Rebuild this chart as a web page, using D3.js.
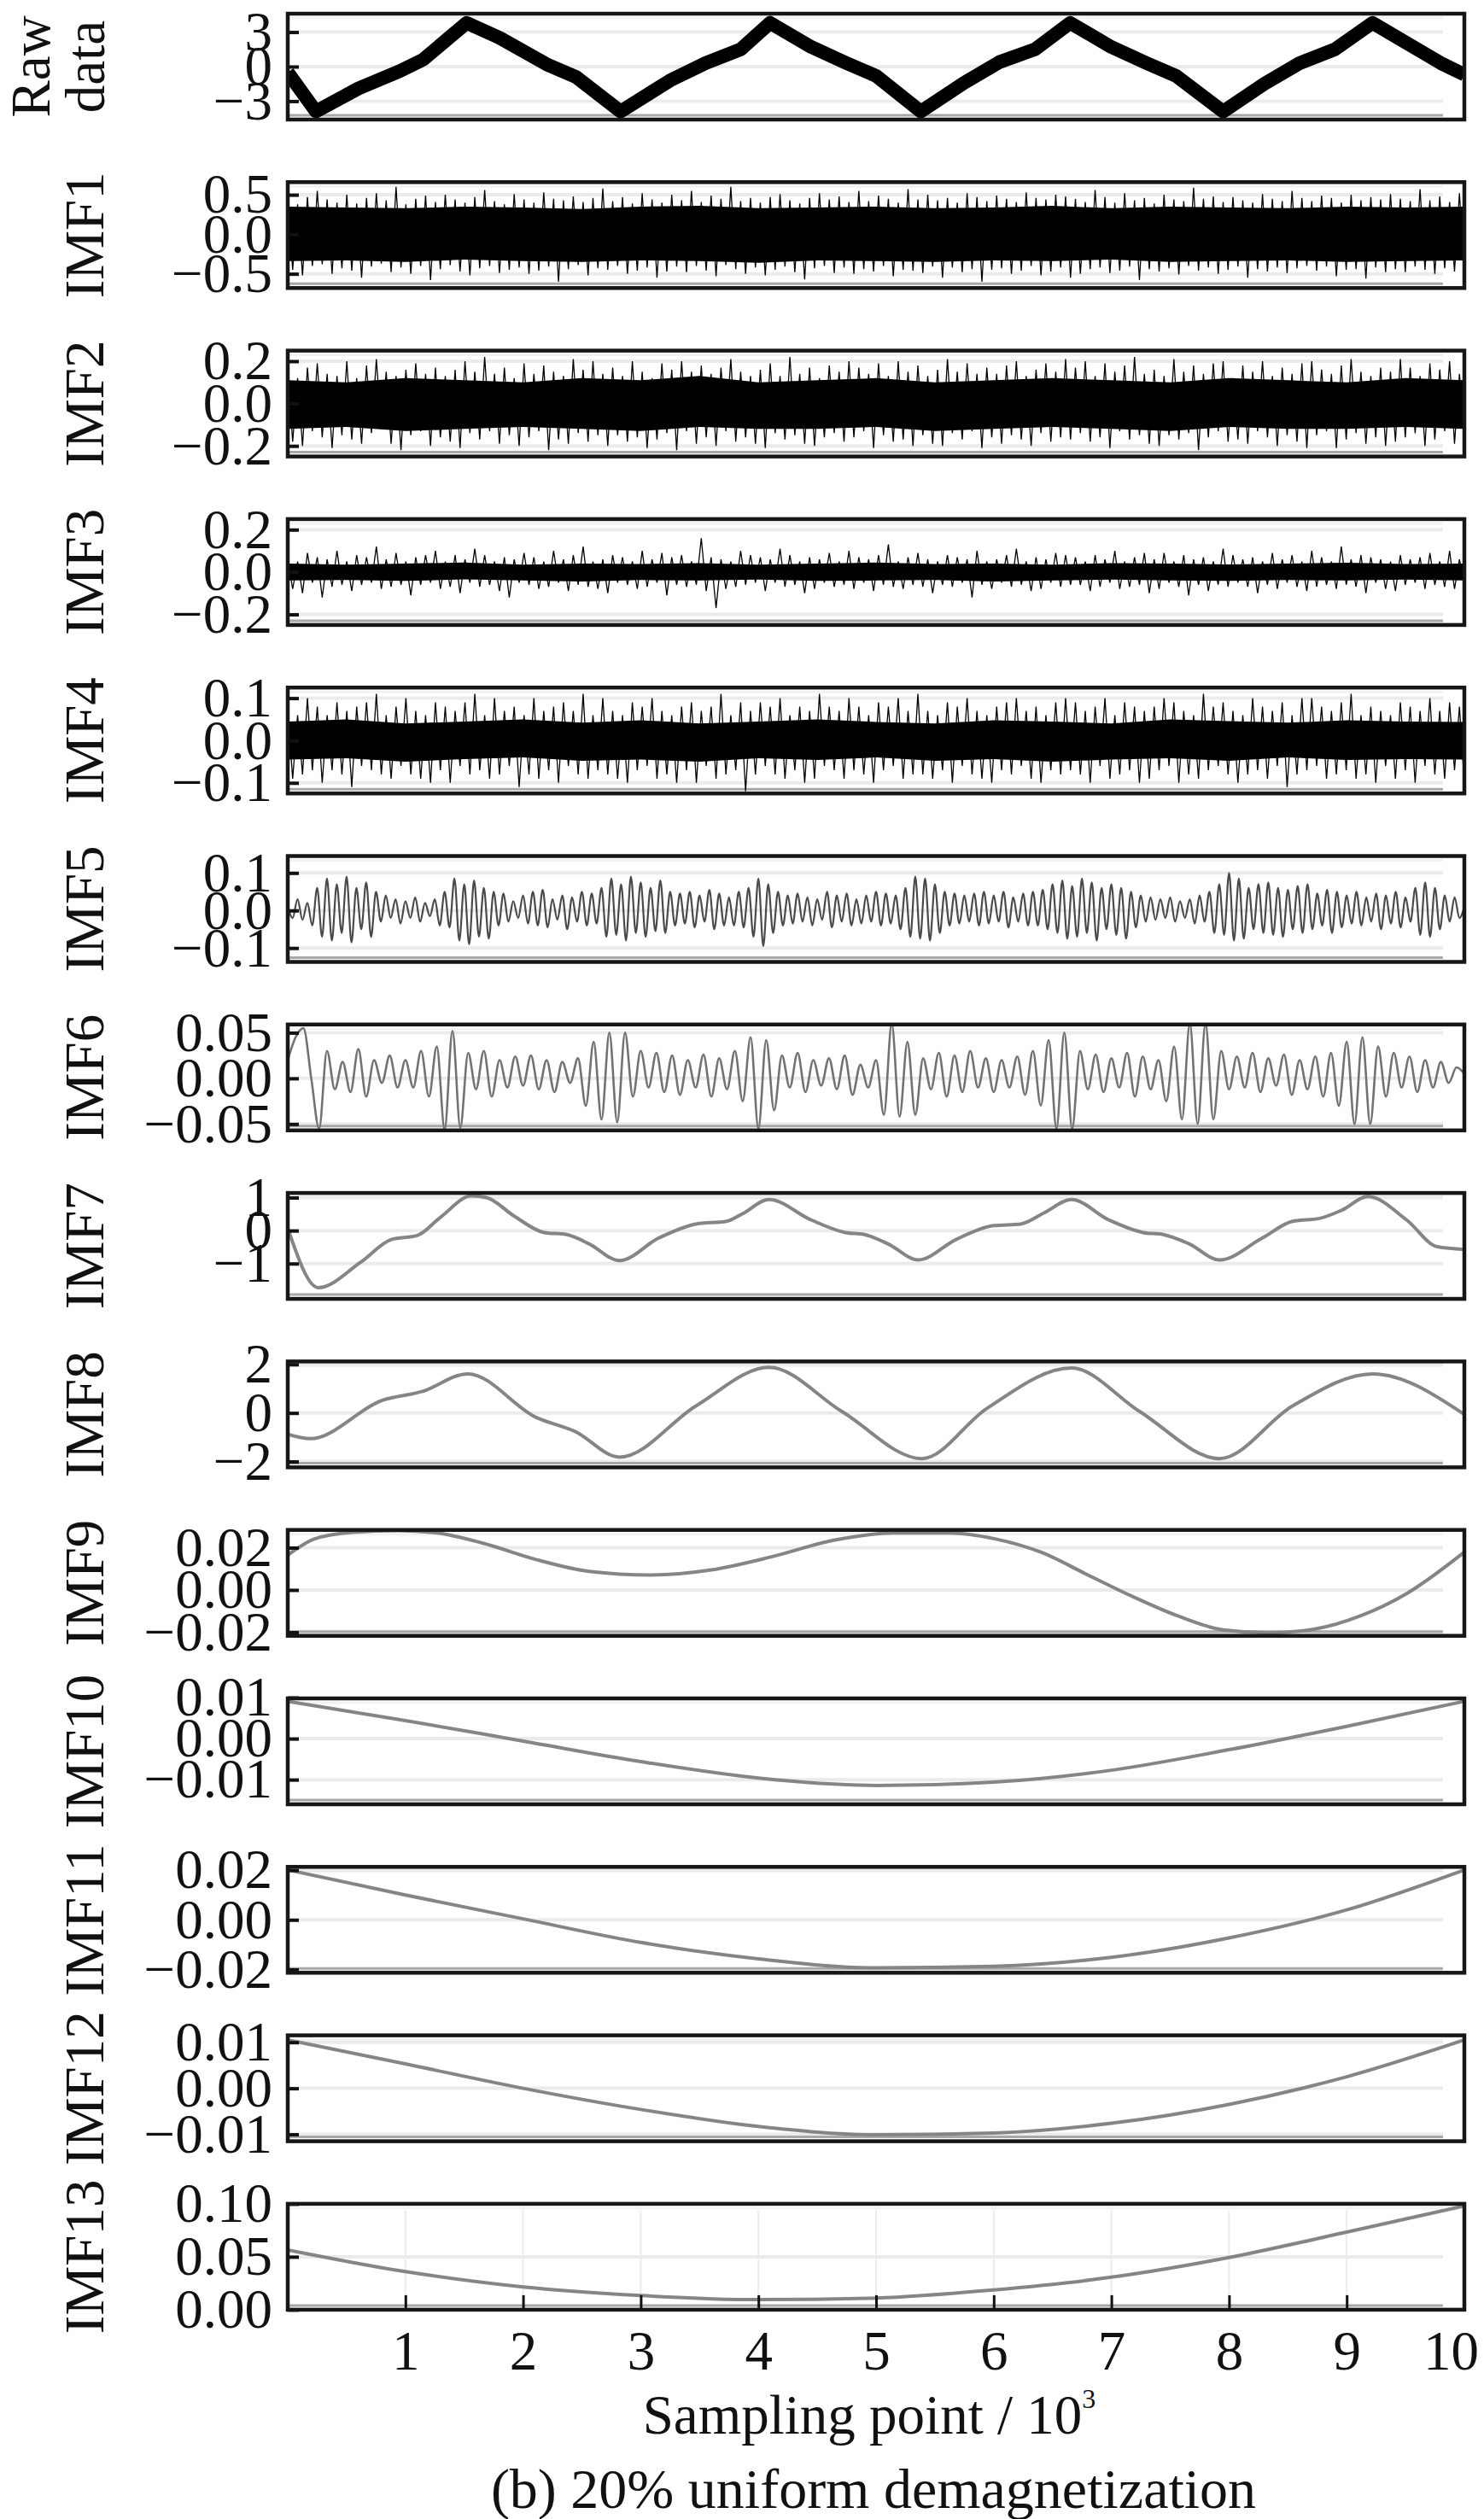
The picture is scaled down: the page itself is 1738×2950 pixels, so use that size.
<!doctype html>
<html lang="en">
<head>
	<meta charset="utf-8">
	<title>EMD - 20% uniform demagnetization</title>
	<style>
html, body {
	margin: 0;
	padding: 0;
	background-color: #fff;
}
svg {
	display: block;
	font-family: 'Liberation Serif', 'Times New Roman', serif;
	fill: #111;
}
	</style>
</head>
<body>
	<div id="chart"></div>

	<script src="https://cdn.jsdelivr.net/npm/d3@7/dist/d3.min.js"></script>
	<script>
(function _emd(d3) {

	'use strict';

	/* DATA */

	var xTicks = [1, 2, 3, 4, 5, 6, 7, 8, 9, 10];

	var rowNames = ['Raw data', 'IMF1', 'IMF2', 'IMF3', 'IMF4', 'IMF5', 'IMF6',
		'IMF7', 'IMF8', 'IMF9', 'IMF10', 'IMF11', 'IMF12', 'IMF13'];

	var yTicks = [
		[3, 0, -3], [0.5, 0, -0.5], [0.2, 0, -0.2], [0.2, 0, -0.2], [0.1, 0, -0.1],
		[0.1, 0, -0.1], [0.05, 0, -0.05], [1, 0, -1], [2, 0, -2], [0.02, 0, -0.02],
		[0.01, 0, -0.01], [0.02, 0, -0.02], [0.01, 0, -0.01], [0.10, 0.05, 0]
	];

	var yFormats = ['d', '.1f', '.1f', '.1f', '.1f', '.1f', '.2f', 'd', 'd',
		'.2f', '.2f', '.2f', '.2f', '.2f'];

	var yDomains = [
		[-4.6, 4.6], [-0.68, 0.66], [-0.25, 0.25], [-0.25, 0.25], [-0.125, 0.125],
		[-0.137, 0.145], [-0.057, 0.059], [-2.07, 1.14], [-2.24, 2.12], [-0.0217, 0.0284],
		[-0.016, 0.0098], [-0.0213, 0.0213], [-0.0115, 0.0115], [0, 0.1]
	];

	// raw signal: centre line of the noisy triangle band
	var rawX = [0, 0.24, 0.6, 0.95, 1.15, 1.52, 1.8, 2.2, 2.45, 2.83, 3.25, 3.55, 3.85, 4.1,
		4.45, 4.75, 5.0, 5.38, 5.75, 6.05, 6.35, 6.65, 7.0, 7.3, 7.55, 7.95, 8.3, 8.6, 8.9,
		9.22, 9.55, 9.8, 10];
	var rawY = [-0.5, -3.9, -1.9, -0.4, 0.6, 3.8, 2.5, 0.2, -0.9, -3.9, -1.2, 0.3, 1.5, 3.8,
		1.7, 0.3, -0.8, -3.9, -1.4, 0.4, 1.5, 3.8, 1.7, 0.3, -0.8, -3.9, -1.5, 0.3, 1.5,
		3.8, 1.8, 0.3, -0.7];

	// dense IMFs: core envelope every 500 samples, then successive peaks
	var imf1Hi = [0.35, 0.34, 0.33, 0.35, 0.34, 0.32, 0.35, 0.36, 0.33, 0.34, 0.35, 0.33, 0.34, 0.36, 0.33, 0.35, 0.34, 0.33, 0.35, 0.34, 0.35];
	var imf1Lo = [-0.34, -0.33, -0.35, -0.32, -0.34, -0.35, -0.33, -0.34, -0.36, -0.33, -0.34, -0.35, -0.33, -0.34, -0.32, -0.35, -0.34, -0.33, -0.35, -0.34, -0.33];
	var imf1Peaks = [
		0.42, -0.45, 0.38, -0.52, 0.47, -0.4, 0.55, -0.38, 0.44, -0.5, 0.4, -0.43, 0.5, -0.46, 0.39, -0.55,
		0.46, -0.41, 0.52, -0.37, 0.43, -0.48, 0.6, -0.42, 0.38, -0.5, 0.45, -0.4, 0.49, -0.58, 0.41, -0.44,
		0.5, -0.39, 0.44, -0.47, 0.4, -0.52, 0.47, -0.43, 0.56, -0.4, 0.42, -0.49, 0.38, -0.45, 0.51, -0.42,
		0.44, -0.5, 0.4, -0.46, 0.53, -0.41, 0.45, -0.6, 0.43, -0.44, 0.48, -0.39, 0.41, -0.52, 0.46, -0.43,
		0.58, -0.45, 0.42, -0.4, 0.47, -0.5, 0.39, -0.46, 0.52, -0.42, 0.44, -0.55, 0.4, -0.47, 0.5, -0.41,
		0.43, -0.48, 0.55, -0.4, 0.41, -0.46, 0.49, -0.53, 0.45, -0.39, 0.6, -0.44, 0.42, -0.5, 0.46, -0.42,
		0.4, -0.52, 0.47, -0.45, 0.51, -0.41, 0.43, -0.48, 0.39, -0.57, 0.46, -0.43, 0.52, -0.4, 0.44, -0.49,
		0.48, -0.42, 0.41, -0.5, 0.55, -0.44, 0.42, -0.47, 0.49, -0.4, 0.45, -0.53, 0.4, -0.45, 0.57, -0.46,
		0.44, -0.49, 0.5, -0.41, 0.43, -0.55, 0.46, -0.42, 0.4, -0.48, 0.52, -0.44, 0.47, -0.6, 0.42, -0.45,
		0.49, -0.43, 0.45, -0.5, 0.41, -0.46, 0.53, -0.4, 0.46, -0.52, 0.44, -0.47, 0.5, -0.42, 0.48, -0.55,
		0.45, -0.5, 0.41, -0.44, 0.56, -0.42, 0.47, -0.49, 0.4, -0.46, 0.52, -0.41, 0.43, -0.58, 0.46, -0.44,
		0.39, -0.47, 0.5, -0.43, 0.44, -0.51, 0.42, -0.4, 0.59, -0.46, 0.45, -0.42, 0.48, -0.5, 0.41, -0.45,
		0.47, -0.41, 0.43, -0.55, 0.4, -0.44, 0.51, -0.47, 0.45, -0.42, 0.42, -0.49, 0.55, -0.43, 0.46, -0.4,
		0.42, -0.46, 0.49, -0.41, 0.46, -0.53, 0.4, -0.45, 0.5, -0.44, 0.43, -0.56, 0.47, -0.42, 0.44, -0.48,
		0.51, -0.44, 0.45, -0.48, 0.42, -0.41, 0.57, -0.45, 0.43, -0.5, 0.48, -0.43, 0.41, -0.47, 0.52, -0.44
	];

	var imf2Hi = [0.11, 0.1, 0.12, 0.11, 0.1, 0.12, 0.11, 0.13, 0.1, 0.11, 0.12, 0.1, 0.11, 0.12, 0.11, 0.1, 0.12, 0.11, 0.1, 0.12, 0.11];
	var imf2Lo = [-0.12, -0.11, -0.13, -0.12, -0.11, -0.12, -0.13, -0.11, -0.12, -0.12, -0.11, -0.13, -0.12, -0.11, -0.12, -0.13, -0.11, -0.12, -0.12, -0.11, -0.12];
	var imf2Peaks = [
		0.15, -0.18, 0.12, -0.2, 0.17, -0.13, 0.19, -0.16, 0.14, -0.21, 0.13, -0.15, 0.2, -0.17, 0.12, -0.19,
		0.18, -0.14, 0.21, -0.12, 0.15, -0.19, 0.13, -0.22, 0.16, -0.15, 0.19, -0.13, 0.14, -0.2, 0.17, -0.16,
		0.13, -0.18, 0.16, -0.21, 0.2, -0.14, 0.15, -0.17, 0.22, -0.13, 0.14, -0.19, 0.17, -0.15, 0.12, -0.2,
		0.19, -0.16, 0.14, -0.13, 0.18, -0.22, 0.15, -0.17, 0.13, -0.19, 0.21, -0.14, 0.16, -0.18, 0.2, -0.15,
		0.14, -0.2, 0.17, -0.15, 0.13, -0.18, 0.2, -0.16, 0.15, -0.21, 0.12, -0.17, 0.19, -0.14, 0.16, -0.22,
		0.2, -0.13, 0.15, -0.19, 0.18, -0.16, 0.14, -0.2, 0.17, -0.13, 0.21, -0.18, 0.15, -0.16, 0.13, -0.19,
		0.16, -0.21, 0.19, -0.14, 0.13, -0.17, 0.22, -0.15, 0.14, -0.19, 0.17, -0.2, 0.12, -0.16, 0.18, -0.14,
		0.15, -0.18, 0.2, -0.16, 0.17, -0.13, 0.14, -0.21, 0.19, -0.15, 0.13, -0.18, 0.2, -0.17, 0.15, -0.2,
		0.18, -0.15, 0.13, -0.19, 0.16, -0.2, 0.21, -0.14, 0.15, -0.17, 0.19, -0.13, 0.14, -0.21, 0.17, -0.16,
		0.14, -0.19, 0.18, -0.15, 0.2, -0.17, 0.13, -0.2, 0.16, -0.14, 0.19, -0.18, 0.15, -0.16, 0.21, -0.17,
		0.17, -0.14, 0.2, -0.18, 0.13, -0.16, 0.19, -0.21, 0.15, -0.13, 0.18, -0.17, 0.22, -0.15, 0.14, -0.19,
		0.16, -0.2, 0.13, -0.15, 0.21, -0.17, 0.15, -0.14, 0.18, -0.22, 0.14, -0.16, 0.19, -0.13, 0.2, -0.18,
		0.12, -0.17, 0.18, -0.19, 0.15, -0.13, 0.2, -0.16, 0.13, -0.2, 0.17, -0.15, 0.14, -0.18, 0.19, -0.21,
		0.2, -0.15, 0.16, -0.13, 0.14, -0.21, 0.18, -0.17, 0.21, -0.14, 0.15, -0.19, 0.13, -0.16, 0.17, -0.2,
		0.15, -0.18, 0.21, -0.16, 0.17, -0.14, 0.13, -0.2, 0.19, -0.17, 0.16, -0.13, 0.2, -0.19, 0.14, -0.16
	];

	var imf3Hi = [0.04, 0.035, 0.04, 0.045, 0.035, 0.04, 0.038, 0.042, 0.035, 0.04, 0.045, 0.038, 0.04, 0.035, 0.042, 0.04, 0.036, 0.04, 0.044, 0.038, 0.04];
	var imf3Lo = [-0.04, -0.038, -0.042, -0.035, -0.04, -0.045, -0.038, -0.04, -0.036, -0.042, -0.04, -0.038, -0.045, -0.04, -0.036, -0.04, -0.042, -0.038, -0.04, -0.036, -0.04];
	var imf3Peaks = [
		0.06, -0.08, 0.05, -0.1, 0.09, -0.05, 0.07, -0.12, 0.06, -0.07, 0.1, -0.06, 0.05, -0.09, 0.08, -0.06,
		0.07, -0.05, 0.12, -0.08, 0.06, -0.07, 0.09, -0.06, 0.05, -0.11, 0.07, -0.06, 0.08, -0.05, 0.1, -0.08,
		0.05, -0.07, 0.08, -0.1, 0.06, -0.05, 0.11, -0.07, 0.08, -0.06, 0.05, -0.09, 0.07, -0.12, 0.06, -0.05,
		0.09, -0.06, 0.07, -0.08, 0.05, -0.07, 0.1, -0.05, 0.06, -0.09, 0.08, -0.06, 0.12, -0.07, 0.05, -0.08,
		0.06, -0.1, 0.08, -0.05, 0.07, -0.06, 0.05, -0.08, 0.1, -0.07, 0.06, -0.05, 0.09, -0.11, 0.07, -0.06,
		0.08, -0.07, 0.05, -0.06, 0.16, -0.09, 0.07, -0.17, 0.06, -0.08, 0.05, -0.07, 0.1, -0.06, 0.08, -0.05,
		0.07, -0.09, 0.06, -0.05, 0.11, -0.07, 0.08, -0.06, 0.05, -0.1, 0.07, -0.08, 0.06, -0.05, 0.09, -0.07,
		0.05, -0.06, 0.1, -0.08, 0.07, -0.05, 0.06, -0.09, 0.08, -0.06, 0.13, -0.07, 0.05, -0.08, 0.07, -0.06,
		0.09, -0.07, 0.06, -0.1, 0.05, -0.06, 0.08, -0.07, 0.07, -0.05, 0.06, -0.12, 0.1, -0.06, 0.05, -0.08,
		0.06, -0.05, 0.08, -0.07, 0.11, -0.06, 0.05, -0.09, 0.07, -0.08, 0.06, -0.05, 0.09, -0.07, 0.08, -0.06,
		0.07, -0.06, 0.05, -0.09, 0.08, -0.07, 0.06, -0.05, 0.1, -0.08, 0.05, -0.07, 0.07, -0.06, 0.09, -0.1,
		0.06, -0.08, 0.09, -0.05, 0.05, -0.07, 0.08, -0.11, 0.06, -0.06, 0.07, -0.09, 0.05, -0.06, 0.11, -0.07,
		0.08, -0.05, 0.06, -0.07, 0.07, -0.1, 0.05, -0.06, 0.09, -0.08, 0.06, -0.05, 0.08, -0.07, 0.05, -0.09,
		0.1, -0.07, 0.07, -0.06, 0.05, -0.08, 0.12, -0.06, 0.06, -0.07, 0.08, -0.1, 0.07, -0.05, 0.06, -0.08,
		0.05, -0.09, 0.08, -0.06, 0.06, -0.05, 0.07, -0.08, 0.09, -0.06, 0.05, -0.07, 0.1, -0.08, 0.06, -0.05
	];

	var imf4Hi = [0.045, 0.05, 0.04, 0.045, 0.05, 0.042, 0.048, 0.04, 0.045, 0.05, 0.044, 0.04, 0.048, 0.045, 0.04, 0.05, 0.046, 0.042, 0.048, 0.045, 0.044];
	var imf4Lo = [-0.045, -0.042, -0.05, -0.044, -0.04, -0.048, -0.045, -0.05, -0.042, -0.046, -0.04, -0.048, -0.044, -0.05, -0.045, -0.042, -0.048, -0.04, -0.046, -0.044, -0.045];
	var imf4Peaks = [
		0.07, -0.09, 0.06, -0.08, 0.1, -0.07, 0.08, -0.1, 0.06, -0.07, 0.09, -0.08, 0.07, -0.11, 0.08, -0.06,
		0.09, -0.07, 0.11, -0.08, 0.06, -0.09, 0.08, -0.06, 0.1, -0.08, 0.07, -0.09, 0.06, -0.1, 0.09, -0.07,
		0.08, -0.1, 0.07, -0.06, 0.09, -0.08, 0.11, -0.07, 0.06, -0.09, 0.1, -0.08, 0.07, -0.06, 0.08, -0.11,
		0.06, -0.08, 0.1, -0.09, 0.07, -0.07, 0.08, -0.1, 0.09, -0.06, 0.07, -0.08, 0.11, -0.09, 0.06, -0.07,
		0.1, -0.08, 0.07, -0.09, 0.06, -0.1, 0.09, -0.07, 0.08, -0.06, 0.1, -0.09, 0.07, -0.08, 0.06, -0.1,
		0.08, -0.07, 0.09, -0.1, 0.07, -0.06, 0.08, -0.09, 0.11, -0.08, 0.06, -0.07, 0.09, -0.12, 0.07, -0.08,
		0.09, -0.06, 0.08, -0.08, 0.1, -0.09, 0.06, -0.07, 0.08, -0.1, 0.07, -0.09, 0.11, -0.06, 0.08, -0.07,
		0.07, -0.09, 0.1, -0.07, 0.08, -0.08, 0.06, -0.1, 0.09, -0.07, 0.08, -0.06, 0.1, -0.09, 0.07, -0.08,
		0.11, -0.08, 0.07, -0.09, 0.06, -0.07, 0.09, -0.1, 0.08, -0.06, 0.1, -0.08, 0.07, -0.09, 0.06, -0.1,
		0.08, -0.07, 0.09, -0.08, 0.1, -0.06, 0.07, -0.09, 0.08, -0.1, 0.06, -0.07, 0.09, -0.08, 0.1, -0.07,
		0.09, -0.08, 0.07, -0.1, 0.08, -0.06, 0.1, -0.09, 0.06, -0.08, 0.09, -0.07, 0.08, -0.1, 0.07, -0.09,
		0.08, -0.07, 0.1, -0.06, 0.09, -0.1, 0.07, -0.08, 0.06, -0.09, 0.11, -0.07, 0.08, -0.06, 0.09, -0.08,
		0.07, -0.1, 0.06, -0.08, 0.1, -0.07, 0.08, -0.09, 0.07, -0.06, 0.09, -0.11, 0.06, -0.08, 0.1, -0.07,
		0.1, -0.06, 0.08, -0.09, 0.07, -0.08, 0.09, -0.07, 0.11, -0.09, 0.06, -0.08, 0.08, -0.1, 0.07, -0.06,
		0.06, -0.09, 0.09, -0.07, 0.08, -0.1, 0.07, -0.06, 0.1, -0.08, 0.07, -0.09, 0.09, -0.07, 0.08, -0.1
	];

	// oscillating IMFs: successive extrema, evenly spread over the record
	var imf5 = [
		0.01, -0.02, 0.03, -0.025, 0.02, -0.04, 0.06, -0.07, 0.085, -0.08, 0.07, -0.06, 0.09, -0.085, 0.06, -0.05, 0.075, -0.07, 0.05, -0.03, 0.04, -0.02, 0.03, -0.035,
		0.025, -0.02, 0.035, -0.03, 0.02, -0.015, 0.03, -0.04, 0.05, -0.045, 0.085, -0.08, 0.07, -0.09, 0.08, -0.07, 0.06, -0.075, 0.05, -0.04, 0.045, -0.03, 0.025, -0.02,
		0.04, -0.035, 0.05, -0.04, 0.055, -0.045, 0.03, -0.025, 0.04, -0.05, 0.035, -0.03, 0.05, -0.04, 0.045, -0.035, 0.06, -0.07, 0.085, -0.065, 0.07, -0.08, 0.09, -0.06,
		0.075, -0.07, 0.06, -0.055, 0.08, -0.06, 0.05, -0.04, 0.045, -0.035, 0.05, -0.045, 0.04, -0.03, 0.055, -0.05, 0.045, -0.04, 0.035, -0.04, 0.05, -0.045, 0.06, -0.07,
		0.085, -0.095, 0.07, -0.06, 0.05, -0.04, 0.04, -0.035, 0.045, -0.03, 0.035, -0.04, 0.03, -0.025, 0.05, -0.045, 0.04, -0.03, 0.045, -0.04, 0.03, -0.035, 0.04, -0.03,
		0.05, -0.04, 0.045, -0.035, 0.04, -0.05, 0.06, -0.07, 0.09, -0.075, 0.085, -0.08, 0.07, -0.06, 0.05, -0.04, 0.045, -0.035, 0.04, -0.03, 0.045, -0.04, 0.05, -0.035,
		0.04, -0.03, 0.05, -0.045, 0.035, -0.03, 0.045, -0.04, 0.05, -0.04, 0.055, -0.05, 0.07, -0.06, 0.08, -0.075, 0.065, -0.07, 0.085, -0.06, 0.075, -0.08, 0.06, -0.05,
		0.07, -0.065, 0.06, -0.075, 0.05, -0.045, 0.04, -0.03, 0.035, -0.025, 0.03, -0.02, 0.035, -0.03, 0.025, -0.02, 0.03, -0.035, 0.04, -0.03, 0.05, -0.06, 0.07, -0.065,
		0.1, -0.08, 0.085, -0.075, 0.06, -0.05, 0.07, -0.06, 0.075, -0.065, 0.06, -0.07, 0.055, -0.05, 0.065, -0.06, 0.07, -0.05, 0.045, -0.04, 0.055, -0.06, 0.05, -0.045,
		0.04, -0.035, 0.05, -0.04, 0.035, -0.03, 0.045, -0.05, 0.04, -0.035, 0.05, -0.045, 0.035, -0.03, 0.06, -0.065, 0.075, -0.07, 0.06, -0.05, 0.04, -0.03, 0.035, -0.02, 0.01
	];

	var imf6 = [
		0.02, 0.045, 0.055, 0.0, -0.055, 0.03, -0.012, 0.018, -0.015, 0.032, -0.02, 0.02, -0.005, 0.025, -0.01,
		0.02, -0.01, 0.03, -0.02, 0.035, -0.056, 0.052, -0.054, 0.028, -0.012, 0.03, -0.02, 0.02, -0.01, 0.024,
		-0.008, 0.025, -0.012, 0.02, -0.015, 0.018, -0.005, 0.022, -0.03, 0.04, -0.045, 0.05, -0.048, 0.05, -0.02,
		0.03, -0.01, 0.028, -0.015, 0.025, -0.018, 0.02, -0.01, 0.026, -0.02, 0.022, -0.012, 0.03, -0.025, 0.045,
		-0.055, 0.042, -0.035, 0.025, -0.01, 0.028, -0.015, 0.02, -0.008, 0.022, -0.012, 0.025, -0.018, 0.015, -0.01,
		0.02, -0.04, 0.06, -0.042, 0.04, -0.04, 0.022, -0.012, 0.028, -0.02, 0.025, -0.015, 0.03, -0.01, 0.022,
		-0.015, 0.02, -0.01, 0.024, -0.018, 0.03, -0.03, 0.042, -0.055, 0.05, -0.055, 0.03, -0.012, 0.026, -0.015,
		0.022, -0.01, 0.028, -0.02, 0.024, -0.012, 0.02, -0.025, 0.035, -0.045, 0.06, -0.05, 0.06, -0.045, 0.03,
		-0.012, 0.024, -0.01, 0.028, -0.015, 0.022, -0.008, 0.026, -0.018, 0.02, -0.012, 0.024, -0.02, 0.028, -0.03,
		0.04, -0.05, 0.045, -0.05, 0.035, -0.02, 0.028, -0.01, 0.024, -0.015, 0.02, -0.01, 0.018, -0.005, 0.012, 0.005
	];

	// smooth IMFs: points
	var imf7X = [0, 0.26, 0.62, 0.88, 1.1, 1.3, 1.56, 1.69, 1.92, 2.18, 2.37, 2.56, 2.82, 3.15, 3.47, 3.73, 3.86,
		4.09, 4.45, 4.74, 4.9, 5.1, 5.36, 5.68, 6.0, 6.23, 6.43, 6.66, 6.98, 7.27, 7.44, 7.66, 7.92,
		8.28, 8.54, 8.77, 8.96, 9.18, 9.51, 9.77, 10];
	var imf7Y = [0.07, -1.73, -0.96, -0.27, -0.15, 0.41, 1.05, 1.0, 0.45, -0.06, -0.12, -0.4, -0.91, -0.23, 0.2, 0.28, 0.5,
		0.94, 0.32, -0.06, -0.12, -0.4, -0.89, -0.27, 0.15, 0.2, 0.54, 0.94, 0.32, -0.06, -0.12, -0.4, -0.89,
		-0.23, 0.28, 0.37, 0.62, 1.03, 0.32, -0.49, -0.57];

	var imf8X = [0, 0.19, 0.81, 1.14, 1.53, 2.11, 2.44, 2.82, 3.47, 4.09, 4.71, 5.39, 5.94, 6.66, 7.24, 7.92, 8.54, 9.22, 10];
	var imf8Y = [-0.88, -1.06, 0.53, 0.88, 1.61, -0.18, -0.76, -1.82, 0.29, 1.88, 0.06, -1.88, 0.18, 1.85, 0.06, -1.88, 0.29, 1.61, -0.06];

	var imf9X = [0, 0.23, 0.55, 0.94, 1.27, 1.66, 2.11, 2.56, 3.08, 3.6, 4.12, 4.64, 5.16, 5.62, 6.01, 6.4, 6.79,
		7.18, 7.56, 7.95, 8.34, 8.73, 9.12, 9.51, 10];
	var imf9Y = [0.0165, 0.0242, 0.0273, 0.0281, 0.027, 0.0221, 0.0144, 0.0088, 0.0071, 0.0095, 0.0158, 0.0235, 0.027,
		0.027, 0.0242, 0.0179, 0.0074, -0.0031, -0.0122, -0.0189, -0.0203, -0.0185, -0.0122, -0.0017, 0.0179];

	var trendX = [0, 1, 2, 3, 4, 5, 6, 7, 8, 9, 10];
	var imf10 = [0.0091, 0.0044, -0.0006, -0.0056, -0.0096, -0.0114, -0.0106, -0.0077, -0.0027, 0.003, 0.0091];
	var imf11 = [0.0201, 0.01, 0.0004, -0.0091, -0.0157, -0.0193, -0.0187, -0.0151, -0.0073, 0.004, 0.0201];
	var imf12 = [0.0105, 0.0053, 0.0, -0.0046, -0.0083, -0.0101, -0.0097, -0.0076, -0.0035, 0.0025, 0.0105];
	var imf13 = [0.0565, 0.036, 0.0215, 0.0134, 0.0095, 0.011, 0.0187, 0.0307, 0.0493, 0.0733, 0.098];


	/* CONST */

	var W = 1738;
	var H = 2950;
	var LEFT = 337;
	var RIGHT = 1715;
	var TOP = 16;
	var PITCH = 197.3;
	var PH = 124;
	var FONT = 65;
	var FAMILY = "'Liberation Serif', 'Times New Roman', serif";

	var GRID = '#ebebeb';
	var INK = '#111';


	/* UTILS */

	var spread = function (values) {
		// samples of an IMF spread evenly over 0..10 (x 10^3)
		var n = values.length;
		return values.map(function (v, i) {
			return { x: i * 10 / (n - 1), y: v };
		});
	};

	var pairs = function (xs, ys) {
		return xs.map(function (v, i) {
			return { x: v, y: ys[i] };
		});
	};

	var envelope = function (hi, lo) {
		return spread(hi).map(function (d, i) {
			return { x: d.x, hi: d.y, lo: lo[i] };
		});
	};


	/* ROWS */

	var rows = [
		{ kind: 'band', pts: pairs(rawX, rawY) },
		{ kind: 'noise', env: envelope(imf1Hi, imf1Lo), pts: spread(imf1Peaks) },
		{ kind: 'noise', env: envelope(imf2Hi, imf2Lo), pts: spread(imf2Peaks) },
		{ kind: 'noise', env: envelope(imf3Hi, imf3Lo), pts: spread(imf3Peaks) },
		{ kind: 'noise', env: envelope(imf4Hi, imf4Lo), pts: spread(imf4Peaks) },
		{ kind: 'osc', pts: spread(imf5), color: '#4a4a4a', width: 2.2 },
		{ kind: 'osc', pts: spread(imf6), color: '#727272', width: 2.6 },
		{ kind: 'smooth', pts: pairs(imf7X, imf7Y) },
		{ kind: 'smooth', pts: pairs(imf8X, imf8Y) },
		{ kind: 'smooth', pts: pairs(imf9X, imf9Y) },
		{ kind: 'smooth', pts: pairs(trendX, imf10) },
		{ kind: 'smooth', pts: pairs(trendX, imf11) },
		{ kind: 'smooth', pts: pairs(trendX, imf12) },
		{ kind: 'smooth', pts: pairs(trendX, imf13) }
	];


	/* RENDER */

	var svg = d3.select('#chart')
		.append('svg')
			.attr('width', W)
			.attr('height', H);

	var x = d3.scaleLinear().domain([0, 10]).range([LEFT, RIGHT]);

	var styleAxis = function (sel, width) {
		sel.attr('font-family', FAMILY).attr('font-size', FONT);
		sel.select('.domain').remove();
		sel.selectAll('.tick line').attr('stroke', INK).attr('stroke-width', width);
		sel.selectAll('.tick text').attr('fill', INK);
	};

	var drawRow = function (row, i) {
		var top = TOP + i * PITCH;
		var bottom = top + PH;
		var dom = yDomains[i];
		var y = d3.scaleLinear().domain(dom).range([bottom, top]);
		var g = svg.append('g').attr('class', 'row row-' + i);
		var last = i === rows.length - 1;
		var line = d3.line().x(function (d) { return x(d.x); }).y(function (d) { return y(d.y); });

		g.append('clipPath')
			.attr('id', 'clip' + i)
			.append('rect')
				.attr('x', LEFT)
				.attr('y', top)
				.attr('width', RIGHT - LEFT)
				.attr('height', PH);

		// faint band under the top frame, gray rule above the bottom one
		g.append('line')
			.attr('x1', LEFT).attr('x2', RIGHT - 25)
			.attr('y1', top + 5).attr('y2', top + 5)
			.attr('stroke', '#f2f2f2').attr('stroke-width', 3);

		g.selectAll('line.grid')
			.data(yTicks[i].filter(function (t) { return t > dom[0] && t < dom[1]; }))
			.enter()
			.append('line')
				.attr('class', 'grid')
				.attr('x1', LEFT).attr('x2', RIGHT - 25)
				.attr('y1', y).attr('y2', y)
				.attr('stroke', GRID).attr('stroke-width', 4);

		if (last) {
			g.selectAll('line.vgrid')
				.data(xTicks.slice(0, -1))
				.enter()
				.append('line')
					.attr('class', 'vgrid')
					.attr('x1', x).attr('x2', x)
					.attr('y1', top + 8).attr('y2', bottom)
					.attr('stroke', '#ececec').attr('stroke-width', 2);
		}

		g.append('line')
			.attr('x1', LEFT).attr('x2', RIGHT - 25)
			.attr('y1', bottom - 5).attr('y2', bottom - 5)
			.attr('stroke', '#a8a8a8').attr('stroke-width', 3);

		var plot = g.append('g').attr('clip-path', 'url(#clip' + i + ')');

		if (row.kind === 'band') {
			plot.append('path')
				.datum(row.pts)
				.attr('d', line)
				.attr('fill', 'none')
				.attr('stroke', '#000')
				.attr('stroke-width', 16)
				.attr('stroke-linejoin', 'round');
		} else if (row.kind === 'noise') {
			plot.append('path')
				.datum(row.env)
				.attr('d', d3.area()
					.x(function (d) { return x(d.x); })
					.y0(function (d) { return y(d.lo); })
					.y1(function (d) { return y(d.hi); }))
				.attr('fill', '#000');
			plot.append('path')
				.datum(row.pts)
				.attr('d', line)
				.attr('fill', 'none')
				.attr('stroke', '#000')
				.attr('stroke-width', 1.3);
		} else if (row.kind === 'osc') {
			plot.append('path')
				.datum(row.pts)
				.attr('d', line.curve(d3.curveMonotoneX))
				.attr('fill', 'none')
				.attr('stroke', row.color)
				.attr('stroke-width', row.width);
		} else {
			plot.append('path')
				.datum(row.pts)
				.attr('d', line.curve(d3.curveMonotoneX))
				.attr('fill', 'none')
				.attr('stroke', '#858585')
				.attr('stroke-width', 4);
		}

		// left axis, ticks pointing inwards
		g.append('g')
			.attr('transform', 'translate(' + LEFT + ',0)')
			.call(d3.axisLeft(y)
				.tickValues(yTicks[i])
				.tickFormat(d3.format(yFormats[i]))
				.tickSizeInner(-13)
				.tickSizeOuter(0)
				.tickPadding(18))
			.call(styleAxis, 4);

		if (last) {
			g.append('g')
				.attr('transform', 'translate(0,' + bottom + ')')
				.call(d3.axisBottom(x)
					.tickValues(xTicks)
					.tickFormat(d3.format('d'))
					.tickSizeInner(-17)
					.tickSizeOuter(0)
					.tickPadding(24))
				.call(styleAxis, 3)
				.selectAll('.tick text')
					.attr('dx', function (d) { return d === 10 ? -16 : 0; });
		}

		g.append('rect')
			.attr('x', LEFT)
			.attr('y', top)
			.attr('width', RIGHT - LEFT)
			.attr('height', PH)
			.attr('fill', 'none')
			.attr('stroke', '#161616')
			.attr('stroke-width', 4.5);

		// row name, rotated
		var cy = top + PH / 2;
		var names = rowNames[i].split(' ');
		var baseX = names.length > 1 ? [58, 122] : [121];
		names.forEach(function (word, k) {
			g.append('text')
				.attr('transform', 'translate(' + baseX[k] + ',' + cy + ') rotate(-90)')
				.attr('text-anchor', 'middle')
				.attr('font-size', FONT)
				.attr('fill', INK)
				.text(word);
		});
	};

	var init = function () {
		rows.forEach(drawRow);

		var title = svg.append('text')
			.attr('x', 1018)
			.attr('y', 2850)
			.attr('text-anchor', 'middle')
			.attr('font-size', FONT)
			.attr('fill', INK);
		title.append('tspan').text('Sampling point / 10');
		title.append('tspan')
			.attr('dy', -30)
			.attr('font-size', 32)
			.text('3');

		svg.append('text')
			.attr('x', 1023)
			.attr('y', 2937)
			.attr('text-anchor', 'middle')
			.attr('font-size', 66)
			.attr('fill', INK)
			.text('(b) 20% uniform demagnetization');
	};

	init();

})(window.d3);
	</script>
</body>
</html>
